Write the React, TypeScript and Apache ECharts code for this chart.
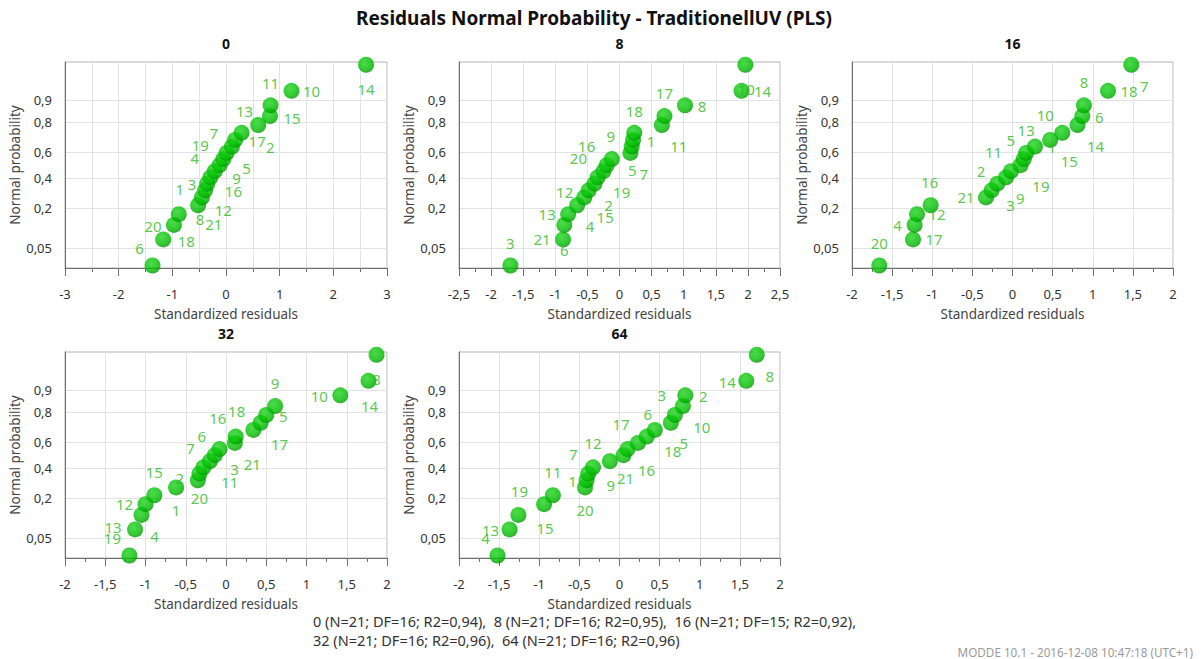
import React, { useEffect, useRef } from "react";
import * as echarts from "echarts";

const FONT = '"Noto Sans", "Open Sans", "DejaVu Sans", sans-serif';

// Panel names (the variable each panel belongs to)
const panelNames = ["0", "8", "16", "32", "64"];

// Standardized residuals in rank order, with the observation number of each
const residuals0 = [-1.37, -1.17, -0.97, -0.88, -0.52, -0.45, -0.39, -0.35, -0.29, -0.21, -0.12, -0.05, 0.01, 0.11, 0.17, 0.29, 0.6, 0.82, 0.83, 1.22, 2.61];
const obs0 = [6, 18, 20, 1, 8, 21, 3, 12, 16, 4, 9, 19, 5, 7, 17, 13, 2, 15, 11, 10, 14];

const residuals8 = [-1.7, -0.88, -0.86, -0.8, -0.66, -0.55, -0.48, -0.39, -0.34, -0.25, -0.2, -0.12, 0.17, 0.19, 0.21, 0.23, 0.66, 0.7, 1.02, 1.9, 1.96];
const obs8 = [3, 21, 6, 13, 4, 15, 12, 2, 19, 20, 16, 9, 5, 7, 1, 18, 11, 17, 8, 14, 10];

const residuals16 = [-1.66, -1.24, -1.22, -1.19, -1.02, -0.33, -0.26, -0.19, -0.08, -0.02, 0.1, 0.14, 0.17, 0.28, 0.47, 0.62, 0.81, 0.87, 0.89, 1.19, 1.48];
const obs16 = [20, 17, 4, 12, 16, 21, 3, 9, 2, 19, 11, 5, 13, 1, 15, 10, 14, 6, 8, 18, 7];

const residuals32 = [-1.2, -1.13, -1.05, -1.0, -0.89, -0.62, -0.35, -0.33, -0.28, -0.2, -0.14, -0.08, 0.11, 0.12, 0.34, 0.43, 0.5, 0.61, 1.42, 1.77, 1.87];
const obs32 = [19, 13, 4, 12, 15, 1, 2, 20, 7, 6, 11, 3, 16, 18, 21, 17, 5, 9, 10, 14, 8];

const residuals64 = [-1.52, -1.37, -1.26, -0.94, -0.83, -0.43, -0.41, -0.39, -0.33, -0.12, 0.05, 0.1, 0.23, 0.34, 0.44, 0.64, 0.69, 0.79, 0.82, 1.58, 1.71];
const obs64 = [4, 13, 19, 15, 11, 20, 1, 7, 12, 9, 21, 16, 17, 6, 18, 5, 10, 3, 2, 14, 8];

const residuals = [residuals0, residuals8, residuals16, residuals32, residuals64];
const observations = [obs0, obs8, obs16, obs32, obs64];

// Probability tick marks on the normal-probability axis
const probTicks = [0.05, 0.2, 0.4, 0.6, 0.8, 0.9];

// x-axis ranges: [min, max, label interval]
const xRanges = [
  [-3, 3, 1],
  [-2.5, 2.5, 0.5],
  [-2, 2, 0.5],
  [-2, 2, 0.5],
  [-2, 2, 0.5],
];

const titleText = "Residuals Normal Probability - TraditionellUV (PLS)";
const footerLines = [
  "0 (N=21; DF=16; R2=0,94),  8 (N=21; DF=16; R2=0,95),  16 (N=21; DF=15; R2=0,92),",
  "32 (N=21; DF=16; R2=0,96),  64 (N=21; DF=16; R2=0,96)",
];
const stampText = "MODDE 10.1 - 2016-12-08 10:47:18 (UTC+1)";

// Where each point's number sits relative to the point centre (px)
const labelShift0 = [[-13, -18], [23, 2], [-21, 1], [1, -25], [2, 14], [12, 27], [-13, -6], [16, 26], [23, 14], [-20, -13], [17, 13], [-23, -14], [20, 15], [-18, -14], [22, 1], [3, -22], [12, 22], [22, 2], [0, -22], [20, 0], [0, 24]];
const labelShift8 = [[0, -23], [-21, 0], [0, 25], [-21, 0], [13, 21], [21, 20], [-24, 2], [14, 21], [24, 15], [-25, -13], [-20, -19], [-1, -23], [2, 17], [12, 27], [18, 1], [0, -22], [17, 21], [0, -23], [17, 1], [21, 0], [1, 24]];
const labelShift16 = [[0, -23], [21, 0], [-17, 0], [20, 0], [-1, -23], [-20, 0], [19, 15], [23, 14], [-25, -6], [30, 15], [-27, -13], [-13, -19], [0, -23], [17, 0], [19, 21], [-17, -18], [18, 21], [17, 1], [0, -23], [21, 0], [13, 21]];
const labelShift32 = [[-17, -18], [-22, -2], [13, 21], [-21, 0], [0, -23], [0, 23], [-18, -2], [0, 24], [-13, -19], [-8, -25], [15, 27], [15, 20], [-17, -25], [1, -26], [-1, 34], [19, 21], [17, 1], [0, -23], [-21, 1], [1, 25], [0, 24]];
const labelShift64 = [[-12, -18], [-19, 1], [1, -24], [1, 24], [0, -23], [0, 23], [-14, 1], [-15, -20], [0, -24], [1, 24], [2, 23], [19, 21], [-17, -19], [1, -23], [18, 21], [13, 20], [27, 12], [-21, -11], [18, 1], [-19, 1], [13, 21]];
const labelShifts = [labelShift0, labelShift8, labelShift16, labelShift32, labelShift64];

// Panel rectangles: [left, top, width, height]
const panelRects = [
  [65, 62, 322, 206],
  [459, 62, 321, 206],
  [852, 62, 321, 206],
  [65, 352, 322, 206],
  [459, 352, 321, 206],
];

const SYMBOL = 16;

// Inverse of the standard normal CDF (Acklam's rational approximation)
function probit(p: number): number {
  const a = [-3.969683028665376e1, 2.209460984245205e2, -2.759285104469687e2, 1.38357751867269e2, -3.066479806614716e1, 2.506628277459239];
  const b = [-5.447609879822406e1, 1.615858368580409e2, -1.556989798598866e2, 6.680131188771972e1, -1.328068155288572e1];
  const c = [-7.784894002430293e-3, -3.223964580411365e-1, -2.400758277161838, -2.549732539343734, 4.374664141464968, 2.938163982698783];
  const d = [7.784695709041462e-3, 3.224671290700398e-1, 2.445134137142996, 3.754408661907416];
  const pl = 0.02425;
  if (p < pl) {
    const q = Math.sqrt(-2 * Math.log(p));
    return (((((c[0] * q + c[1]) * q + c[2]) * q + c[3]) * q + c[4]) * q + c[5]) / ((((d[0] * q + d[1]) * q + d[2]) * q + d[3]) * q + 1);
  }
  if (p > 1 - pl) {
    const q = Math.sqrt(-2 * Math.log(1 - p));
    return -(((((c[0] * q + c[1]) * q + c[2]) * q + c[3]) * q + c[4]) * q + c[5]) / ((((d[0] * q + d[1]) * q + d[2]) * q + d[3]) * q + 1);
  }
  const q = p - 0.5;
  const r = q * q;
  return ((((((a[0] * r + a[1]) * r + a[2]) * r + a[3]) * r + a[4]) * r + a[5]) * q) / (((((b[0] * r + b[1]) * r + b[2]) * r + b[3]) * r + b[4]) * r + 1);
}

const commaNum = (v: number) => String(Math.round(v * 1000) / 1000).replace(".", ",");

const tickZ = probTicks.map(probit);
const probLabel = (z: number) => {
  let best = 0;
  for (let i = 1; i < tickZ.length; i++) {
    if (Math.abs(tickZ[i] - z) < Math.abs(tickZ[best] - z)) best = i;
  }
  return commaNum(probTicks[best]);
};

const AXIS_DARK = "#707070";
const GRID_LINE = "#e3e3e3";
const LABEL_GREEN = "#30b922";

function buildOption(): echarts.EChartsOption {
  const grids: any[] = [];
  const xAxes: any[] = [];
  const yAxes: any[] = [];
  const series: any[] = [];
  const graphics: any[] = [];

  panelNames.forEach((name, k) => {
    const [left, top, width, height] = panelRects[k];
    const [xmin, xmax, xint] = xRanges[k];
    grids.push({ left, top, width, height, show: true, borderColor: "#b4b4b4", borderWidth: 1, containLabel: false });

    xAxes.push({
      gridIndex: k,
      type: "value",
      min: xmin,
      max: xmax,
      interval: xint,
      axisLine: { show: true, onZero: false, lineStyle: { color: AXIS_DARK } },
      axisTick: { show: true, length: 8, lineStyle: { color: AXIS_DARK } },
      minorTick: { show: true, splitNumber: 2, length: 4, lineStyle: { color: AXIS_DARK } },
      splitLine: { show: true, lineStyle: { color: GRID_LINE } },
      minorSplitLine: { show: xint === 1, lineStyle: { color: GRID_LINE } },
      axisLabel: { margin: 19, color: "#333", fontSize: 13, fontFamily: FONT, formatter: (v: number) => commaNum(v) },
      name: "Standardized residuals",
      nameLocation: "middle",
      nameGap: 39,
      nameTextStyle: { color: "#444", fontSize: 13.5, fontFamily: FONT },
    });

    yAxes.push({
      gridIndex: k,
      type: "value",
      min: -2.03,
      max: 2.035,
      axisLine: { show: true, onZero: false, lineStyle: { color: AXIS_DARK } },
      axisTick: { show: false, customValues: tickZ },
      splitLine: { show: true, lineStyle: { color: GRID_LINE } },
      axisLabel: { customValues: tickZ, margin: 13, color: "#333", fontSize: 13, fontFamily: FONT, formatter: (v: number) => probLabel(v) },
      name: "Normal probability",
      nameLocation: "middle",
      nameGap: 39,
      nameTextStyle: { color: "#444", fontSize: 13.5, fontFamily: FONT },
    });

    const xs = residuals[k];
    const n = xs.length;
    series.push({
      type: "scatter",
      xAxisIndex: k,
      yAxisIndex: k,
      symbol: "circle",
      symbolSize: SYMBOL,
      itemStyle: {
        color: {
          type: "radial",
          x: 0.4,
          y: 0.35,
          r: 0.7,
          colorStops: [
            { offset: 0, color: "#1fd41f" },
            { offset: 0.65, color: "#00bd00" },
            { offset: 1, color: "#009200" },
          ],
        },
      },
      label: {
        show: true,
        formatter: "{b}",
        color: LABEL_GREEN,
        fontSize: 15,
        fontFamily: FONT,
        align: "center",
        verticalAlign: "middle",
      },
      labelLayout: { hideOverlap: false },
      data: xs.map((x, i) => {
        const [dx, dy] = labelShifts[k][i];
        return {
          name: String(observations[k][i]),
          value: [x, probit((i + 0.5) / n)],
          label: { position: [SYMBOL / 2 + dx, SYMBOL / 2 + dy] },
        };
      }),
    });

    graphics.push({
      type: "text",
      x: left + width / 2,
      y: top - 19,
      style: { text: name, fontSize: 14, fontWeight: "bold", fontFamily: FONT, fill: "#111", textAlign: "center", textVerticalAlign: "middle" },
    });
  });

  graphics.push({
    type: "text",
    x: 594,
    y: 18,
    style: { text: titleText, fontSize: 19, fontWeight: "bold", fontFamily: FONT, fill: "#111", textAlign: "center", textVerticalAlign: "middle" },
  });
  footerLines.forEach((line, i) => {
    graphics.push({
      type: "text",
      x: 313,
      y: 621 + i * 19,
      style: { text: line, fontSize: 14.5, fontFamily: FONT, fill: "#333", textAlign: "left", textVerticalAlign: "middle" },
    });
  });
  graphics.push({
    type: "text",
    x: 1193,
    y: 652,
    style: { text: stampText, fontSize: 11.7, fontFamily: FONT, fill: "#9a9a9a", textAlign: "right", textVerticalAlign: "middle" },
  });

  return {
    animation: false,
    backgroundColor: "#ffffff",
    grid: grids,
    xAxis: xAxes,
    yAxis: yAxes,
    series,
    graphic: graphics,
  } as any;
}

export default function App() {
  const ref = useRef<HTMLDivElement>(null);
  useEffect(() => {
    if (!ref.current) return;
    const chart = echarts.init(ref.current, undefined, { renderer: "svg" });
    chart.setOption(buildOption());
    return () => chart.dispose();
  }, []);
  return <div ref={ref} style={{ position: "fixed", left: 0, top: 0, width: 1201, height: 659, background: "#fff" }} />;
}
